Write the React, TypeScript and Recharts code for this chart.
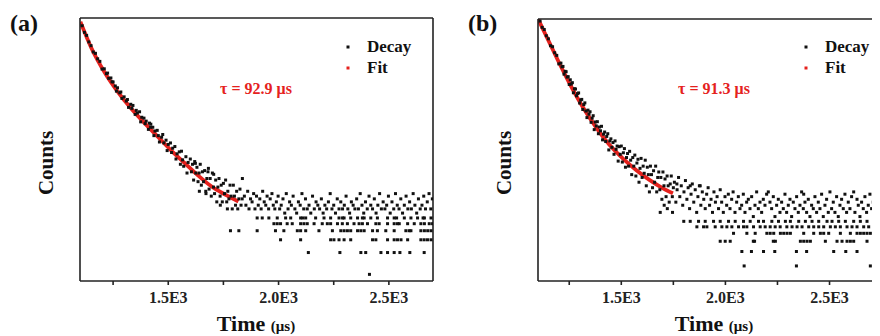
import React from "react";
import { ComposedChart, Line, Scatter, XAxis, YAxis } from "recharts";

type Pt = [number, number];

// panel (a): fitted curve, time (µs) vs counts
const fitA: Pt[] = [
  [1102, 3050], [1151, 1340], [1212, 610], [1273, 325], [1332, 194], [1394, 121], [1455, 78],
  [1514, 51], [1576, 34], [1636, 23], [1695, 16.4], [1758, 12.6], [1818, 10.1],
];

const decayHeadA: Pt[] = [
  [1110, 2690], [1120, 2180], [1130, 1980], [1140, 1610], [1150, 1430], [1160, 1170], [1170, 1120],
  [1180, 942], [1190, 867], [1200, 679], [1210, 685], [1220, 587], [1225, 598], [1230, 506],
  [1240, 512], [1245, 454], [1250, 451], [1260, 397], [1265, 337], [1270, 375], [1280, 320],
  [1285, 328], [1290, 267], [1300, 281], [1310, 246], [1315, 258], [1320, 201], [1330, 222],
  [1335, 195], [1340, 214], [1350, 161], [1355, 183], [1360, 168], [1370, 175], [1375, 127],
  [1380, 147], [1390, 143], [1395, 120], [1400, 130], [1410, 100], [1415, 122], [1420, 107],
  [1421, 118], [1430, 107], [1435, 82], [1440, 95], [1450, 97], [1455, 82], [1460, 67], [1470, 78],
  [1475, 85], [1480, 65], [1490, 71], [1495, 51], [1500, 62], [1510, 65], [1515, 48], [1520, 55],
  [1530, 58], [1535, 39], [1540, 46], [1550, 49], [1555, 33], [1560, 50], [1565, 38], [1570, 31],
  [1580, 42], [1585, 25], [1590, 35], [1600, 39], [1605, 26], [1610, 33], [1615, 20], [1620, 36],
  [1623, 34], [1625, 25], [1630, 30], [1635, 19], [1640, 25], [1641, 14], [1645, 33], [1650, 17],
  [1655, 26], [1660, 19], [1665, 27], [1670, 14], [1671, 13], [1675, 21], [1680, 26], [1682, 29],
  [1685, 15], [1690, 21], [1695, 12], [1700, 25], [1705, 16], [1706, 24], [1710, 13], [1715, 20],
  [1720, 10], [1725, 16], [1730, 21], [1735, 12], [1736, 9], [1740, 17], [1745, 10], [1750, 18],
  [1755, 13], [1760, 20], [1765, 10], [1768, 8], [1770, 14], [1775, 11], [1780, 17], [1785, 12],
  [1790, 8], [1795, 17], [1800, 12], [1805, 9], [1810, 14], [1815, 8], [1820, 11], [1825, 15],
  [1830, 9], [1835, 11], [1836, 21],
];

const decayTailA: Pt[] = [
  [1845, 12], [1852, 9], [1860, 14], [1866, 8], [1873, 11], [1880, 10], [1887, 13], [1893, 8],
  [1900, 12], [1908, 9], [1915, 11], [1921, 8], [1928, 14], [1935, 10], [1942, 9], [1948, 12],
  [1955, 8], [1962, 11], [1970, 13], [1976, 9], [1983, 8], [1990, 10], [1998, 12], [2005, 8],
  [2012, 9], [2020, 11], [2028, 7], [2035, 13], [2043, 8], [2050, 10], [2058, 9], [2066, 12],
  [2074, 8], [2082, 7], [2090, 10], [2098, 9], [2106, 13], [2114, 8], [2122, 11], [2130, 8],
  [2138, 9], [2146, 7], [2154, 12], [2162, 8], [2170, 10], [2178, 9], [2186, 8], [2194, 11],
  [2202, 7], [2210, 9], [2218, 8], [2226, 10], [2234, 13], [2242, 8], [2250, 9], [2258, 7],
  [2266, 11], [2274, 8], [2282, 10], [2290, 8], [2298, 9], [2306, 12], [2314, 8], [2322, 7],
  [2330, 10], [2338, 9], [2346, 8], [2354, 11], [2362, 8], [2370, 13], [2378, 9], [2386, 7],
  [2394, 10], [2402, 8], [2410, 12], [2418, 9], [2426, 8], [2434, 11], [2442, 7], [2450, 9],
  [2458, 13], [2466, 8], [2474, 10], [2482, 8], [2490, 9], [2498, 12], [2506, 7], [2514, 10],
  [2522, 8], [2530, 13], [2538, 9], [2546, 8], [2554, 11], [2562, 7], [2570, 9], [2578, 12],
  [2586, 8], [2594, 10], [2602, 8], [2610, 13], [2618, 9], [2626, 7], [2634, 11], [2642, 8],
  [2650, 9], [2658, 12], [2666, 8], [2674, 10], [2682, 13], [2690, 8], [2697, 11],
];

// low-count channels, [count, times]
const levelsA: [number, number[]][] = [
  [1, [2412]],
  [2, [2135, 2278, 2373, 2395, 2464, 2494, 2524, 2550, 2595, 2660]],
  [3, [2009, 2100, 2236, 2251, 2274, 2297, 2327, 2426, 2441, 2494, 2524, 2539, 2555, 2585, 2645, 2660, 2675, 2691]],
  [4, [1782, 1820, 1903, 1986, 2024, 2085, 2100, 2123, 2183, 2244, 2282, 2297, 2312, 2327, 2358, 2373, 2388, 2426, 2448, 2486, 2524, 2577, 2592, 2600, 2645, 2661, 2676, 2691]],
  [5, [1979, 1994, 2009, 2039, 2062, 2100, 2115, 2130, 2161, 2198, 2221, 2236, 2267, 2289, 2312, 2342, 2365, 2380, 2403, 2441, 2456, 2494, 2524, 2539, 2547, 2585, 2615, 2645, 2661, 2683, 2698]],
  [6, [1903, 1926, 1956, 1994, 2032, 2055, 2100, 2110, 2123, 2168, 2206, 2236, 2274, 2290, 2297, 2327, 2358, 2380, 2388, 2418, 2448, 2494, 2524, 2535, 2570, 2600, 2630, 2655, 2661, 2691]],
];

// panel (b)
const fitB: Pt[] = [
  [1101, 2040], [1154, 1072], [1203, 589], [1250, 343], [1315, 174], [1379, 98], [1443, 60],
  [1507, 41], [1571, 29.6], [1635, 22.4], [1700, 17.7], [1748, 15.4],
];

const decayHeadB: Pt[] = [
  [1110, 1940], [1120, 1626], [1130, 1531], [1140, 1285], [1150, 1180], [1160, 973], [1170, 944],
  [1180, 798], [1190, 740], [1200, 583], [1210, 596], [1215, 537], [1220, 543], [1225, 437],
  [1230, 473], [1235, 468], [1240, 403], [1245, 407], [1250, 327], [1255, 373], [1260, 331],
  [1265, 344], [1270, 259], [1275, 290], [1280, 288], [1285, 238], [1290, 253], [1295, 258],
  [1300, 194], [1305, 211], [1310, 215], [1315, 162], [1320, 186], [1325, 195], [1330, 155],
  [1335, 129], [1340, 159], [1345, 142], [1350, 152], [1355, 113], [1360, 127], [1365, 136],
  [1370, 92], [1375, 114], [1380, 102], [1385, 115], [1390, 82], [1395, 99], [1400, 89], [1405, 101],
  [1410, 69], [1415, 81], [1420, 86], [1425, 66], [1430, 76], [1435, 82], [1440, 52], [1445, 67],
  [1450, 71], [1455, 56], [1460, 64], [1465, 46], [1470, 67], [1475, 53], [1480, 58], [1485, 38],
  [1490, 57], [1495, 46], [1500, 58], [1505, 37], [1510, 48], [1515, 54], [1520, 32], [1525, 42],
  [1530, 47], [1535, 33], [1540, 50], [1545, 39], [1550, 26], [1555, 42], [1560, 33], [1565, 45],
  [1570, 25], [1575, 36], [1580, 40], [1585, 21], [1590, 31], [1595, 41], [1600, 24], [1605, 33],
  [1610, 27], [1615, 39], [1620, 19], [1625, 32], [1630, 26], [1635, 16], [1640, 33], [1645, 26],
  [1650, 18], [1655, 29], [1660, 21], [1665, 33], [1670, 16], [1675, 24], [1680, 28], [1685, 17],
  [1687, 9], [1690, 24], [1695, 13], [1700, 28], [1705, 19], [1706, 11], [1710, 23], [1715, 14],
  [1720, 25], [1721, 10], [1725, 19], [1730, 12], [1735, 20], [1740, 25], [1745, 14], [1746, 9],
  [1750, 18], [1767, 20], [1831, 19], [1879, 19],
];

const decayTailB: Pt[] = [
  [1755, 21], [1762, 12], [1768, 17], [1775, 24], [1781, 14], [1788, 19], [1795, 11], [1801, 16],
  [1808, 22], [1815, 13], [1821, 18], [1828, 10], [1835, 15], [1841, 20], [1848, 12], [1855, 17],
  [1862, 9], [1868, 14], [1875, 19], [1882, 11], [1889, 16], [1896, 13], [1903, 10], [1910, 15],
  [1917, 18], [1924, 11], [1931, 13], [1938, 9], [1945, 16], [1952, 12], [1960, 14], [1967, 10],
  [1975, 17], [1982, 12], [1990, 9], [1998, 14], [2006, 11], [2014, 15], [2022, 10], [2030, 13],
  [2037, 16], [2046, 9], [2054, 12], [2062, 14], [2070, 10], [2078, 11], [2086, 15], [2094, 9],
  [2102, 12], [2110, 13], [2118, 10], [2126, 14], [2134, 8], [2142, 11], [2150, 16], [2158, 10],
  [2166, 12], [2174, 9], [2182, 13], [2190, 11], [2198, 15], [2206, 16], [2214, 12], [2222, 10],
  [2230, 14], [2238, 8], [2246, 11], [2254, 13], [2262, 9], [2270, 12], [2278, 10], [2286, 15],
  [2294, 9], [2302, 11], [2310, 13], [2318, 8], [2326, 12], [2334, 10], [2342, 14], [2350, 9],
  [2358, 11], [2366, 16], [2374, 10], [2376, 15], [2382, 12], [2390, 9], [2398, 13], [2406, 8],
  [2414, 11], [2422, 10], [2430, 14], [2438, 9], [2446, 12], [2454, 10], [2462, 15], [2470, 8],
  [2478, 11], [2486, 13], [2494, 9], [2502, 16], [2510, 10], [2518, 12], [2526, 9], [2534, 14],
  [2542, 8], [2550, 11], [2558, 13], [2566, 10], [2574, 15], [2582, 9], [2590, 12], [2598, 10],
  [2606, 14], [2616, 16], [2622, 9], [2632, 13], [2638, 11], [2646, 8], [2654, 12], [2662, 10],
  [2670, 14], [2678, 9], [2686, 11], [2694, 15], [2702, 10], [2710, 12], [2718, 9], [2726, 13],
  [2734, 11], [2742, 8],
];

const levelsB: [number, number[]][] = [
  [2, [2090, 2341, 2696]],
  [3, [2079, 2125, 2183, 2237, 2341, 2390, 2520, 2578, 2632, 2712, 2741]],
  [4, [1975, 1999, 2023, 2134, 2140, 2230, 2240, 2360, 2376, 2392, 2408, 2480, 2536, 2560, 2584, 2600, 2616, 2680, 2712]],
  [5, [2039, 2103, 2143, 2199, 2215, 2232, 2264, 2280, 2296, 2312, 2376, 2424, 2456, 2472, 2496, 2552, 2600, 2632, 2648, 2664, 2680, 2696, 2712, 2740]],
  [6, [1863, 1895, 1911, 1951, 1983, 2007, 2031, 2063, 2087, 2103, 2135, 2167, 2191, 2215, 2239, 2263, 2295, 2320, 2344, 2368, 2400, 2424, 2448, 2472, 2504, 2528, 2552, 2584, 2608, 2632, 2664, 2688, 2712, 2736]],
  [7, [1800, 1831, 1871, 1903, 1943, 1975, 2015, 2047, 2087, 2119, 2159, 2183, 2223, 2255, 2288, 2312, 2352, 2384, 2416, 2448, 2488, 2512, 2544, 2576, 2616, 2648, 2680, 2712, 2744]],
];

const tickLabels: Record<number, string> = { 1500: "1.5E3", 2000: "2.0E3", 2500: "2.5E3", 3000: "3.0E3" };

const SERIF = '"Liberation Serif", "Times New Roman", serif';
const RED = "#e5211d";
const AXIS = "#222";

const toRows = (pts: Pt[]) => pts.map(([t, c]) => ({ t, c }));
const levelRows = (levels: [number, number[]][]) =>
  levels.flatMap(([c, ts]) => ts.map((t) => ({ t, c })));

const Dot = (props: any) => (
  <rect x={props.cx - 1.5} y={props.cy - 1.5} width={3} height={3} fill="#111" />
);

const TimeTick = (props: any) => {
  const { x, y, payload } = props;
  const label = tickLabels[payload.value];
  if (!label) return <g />;
  return (
    <text x={x} y={y + 16} textAnchor="middle" fontFamily={SERIF} fontWeight="bold" fontSize={16} fill="#222">
      {label}
    </text>
  );
};

type PanelProps = {
  left: number;
  width: number;
  view: number;
  plot: { top: number; right: number; bottom: number; left: number };
  xDomain: [number, number];
  yDomain: [number, number];
  ticks: number[];
  fit: Pt[];
  decay: { t: number; c: number }[];
  tag: string;
  tau: string;
  closed: boolean;
};

function DecayPanel({ left, width, view, plot, xDomain, yDomain, ticks, fit, decay, tag, tau, closed }: PanelProps) {
  // axes take a few pixels each, margins are what's left of the plot insets
  const margin = {
    top: plot.top - 2,
    right: closed ? plot.right - 2 : plot.right,
    bottom: plot.bottom - 30,
    left: plot.left - 10,
  };
  const plotLeft = plot.left;
  const legendX = plotLeft + 268;
  return (
    <div style={{ position: "absolute", left, top: 0, width: view, height: 336, overflow: "hidden" }}>
      <ComposedChart width={width} height={336} margin={margin}>
        <XAxis
          dataKey="t"
          type="number"
          domain={xDomain}
          ticks={ticks}
          allowDataOverflow
          height={30}
          tickSize={4}
          tick={<TimeTick />}
          stroke={AXIS}
          strokeWidth={1.6}
        />
        <XAxis xAxisId="top" orientation="top" type="number" domain={xDomain} height={2} tick={false} tickLine={false} stroke={AXIS} strokeWidth={1.6} />
        <YAxis
          dataKey="c"
          type="number"
          scale="log"
          domain={yDomain}
          allowDataOverflow
          width={10}
          tick={false}
          tickLine={false}
          stroke={AXIS}
          strokeWidth={1.6}
        />
        {closed && (
          <YAxis yAxisId="right" orientation="right" type="number" domain={[0, 1]} width={2} tick={false} tickLine={false} stroke={AXIS} strokeWidth={1.6} />
        )}
        <Scatter data={decay} shape={<Dot />} isAnimationActive={false} />
        <Line
          data={toRows(fit)}
          dataKey="c"
          type="monotone"
          stroke={RED}
          strokeWidth={3.8}
          dot={false}
          isAnimationActive={false}
        />
      </ComposedChart>
      <svg width={width} height={336} style={{ position: "absolute", left: 0, top: 0, pointerEvents: "none" }} fontFamily={SERIF} fontWeight="bold">
        <text x={plotLeft - 70} y={31} fontSize={24} fill="#111">{tag}</text>
        <text transform={`translate(${plotLeft - 27},163) rotate(-90)`} textAnchor="middle" fontSize={21} fill="#111">
          Counts
        </text>
        <text x={plotLeft + 176} y={331} textAnchor="middle" fill="#111">
          <tspan fontSize={22}>Time </tspan>
          <tspan fontSize={15}>(μs)</tspan>
        </text>
        <rect x={legendX - 1.5} y={45.5} width={3} height={3} fill="#111" />
        <text x={legendX + 19} y={52} fontSize={17} fill="#111">Decay</text>
        <rect x={legendX - 1.5} y={66.5} width={3} height={3} fill={RED} />
        <text x={legendX + 19} y={73} fontSize={17} fill="#111">Fit</text>
        <text x={plotLeft + 176} y={94} textAnchor="middle" fontSize={16} fill={RED}>{tau}</text>
      </svg>
    </div>
  );
}

export default function App() {
  const decayA = [...toRows(decayHeadA), ...toRows(decayTailA), ...levelRows(levelsA)];
  const decayB = [...toRows(decayHeadB), ...toRows(decayTailB), ...levelRows(levelsB)];
  return (
    <div style={{ position: "relative", width: 880, height: 336, margin: "-8px 0 0 -8px", overflow: "hidden", background: "#fff" }}>
      <DecayPanel
        left={0}
        width={440}
        view={440}
        plot={{ top: 18, right: 7, bottom: 55, left: 80 }}
        xDomain={[1100, 2700]}
        yDomain={[0.81, 3440]}
        ticks={[1250, 1500, 1750, 2000, 2250, 2500]}
        fit={fitA}
        decay={decayA}
        tag="(a)"
        tau="τ = 92.9 μs"
        closed
      />
      <DecayPanel
        left={440}
        width={460}
        view={440}
        plot={{ top: 19, right: 8, bottom: 55, left: 98 }}
        xDomain={[1100, 2800]}
        yDomain={[1.31, 2057]}
        ticks={[1250, 1500, 1750, 2000, 2250, 2500, 2750]}
        fit={fitB}
        decay={decayB}
        tag="(b)"
        tau="τ = 91.3 μs"
        closed={false}
      />
    </div>
  );
}
